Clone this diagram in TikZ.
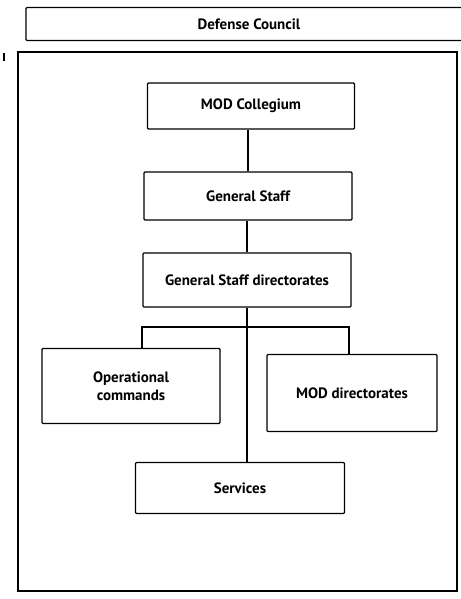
\documentclass[tikz,border=0pt]{standalone}
\usepackage{fontspec}
\setmainfont{PT Sans}
\begin{document}
\begin{tikzpicture}[x=1pt,y=-1pt,
  lbl/.style={font=\fontsize{15}{17.5}\selectfont\bfseries},
  box/.style={draw=black, line width=1.3pt, rectangle, rounded corners=1pt, align=center, lbl, inner sep=0pt},
  conn/.style={draw=black, line width=1.6pt}]
\useasboundingbox (0,0) rectangle (460,599);
% top box
\node[box, minimum width=446pt, minimum height=33pt] (dc) at (249,24) {Defense Council};
% outer frame
\node[draw=black, line width=1.3pt, rectangle, minimum width=439pt, minimum height=539pt, inner sep=0pt] (outer) at (237.5,321.5) {};
% small mark at left
\draw[line width=2pt] (4,53) -- (4,61);
% boxes
\node[box, minimum width=207pt, minimum height=46pt] (mc) at (251,106) {MOD Collegium};
\node[box, minimum width=208pt, minimum height=48pt] (gs) at (248,196) {General Staff};
\node[box, minimum width=208pt, minimum height=54pt] (gsd) at (247,280) {General Staff directorates};
\node[box, minimum width=178pt, minimum height=75pt] (oc) at (131,386) {Operational\\commands};
\node[box, minimum width=170pt, minimum height=77pt] (md) at (352,393) {MOD directorates};
\node[box, minimum width=209pt, minimum height=51pt] (sv) at (240,488) {Services};
% connectors
\coordinate (j) at (247,327);
\coordinate (jl) at (142,327);
\coordinate (jr) at (349,327);
\draw[conn] (gs.north) -- (gs.north |- mc.south);
\draw[conn] (gsd.north) -- (gsd.north |- gs.south);
\draw[conn] (gsd.south) -- (j);
\draw[conn] (jl |- oc.north) -- (jl) -- (jr) -- (jr |- md.north);
\draw[conn] (j) -- (j |- sv.north);
\end{tikzpicture}
\end{document}
